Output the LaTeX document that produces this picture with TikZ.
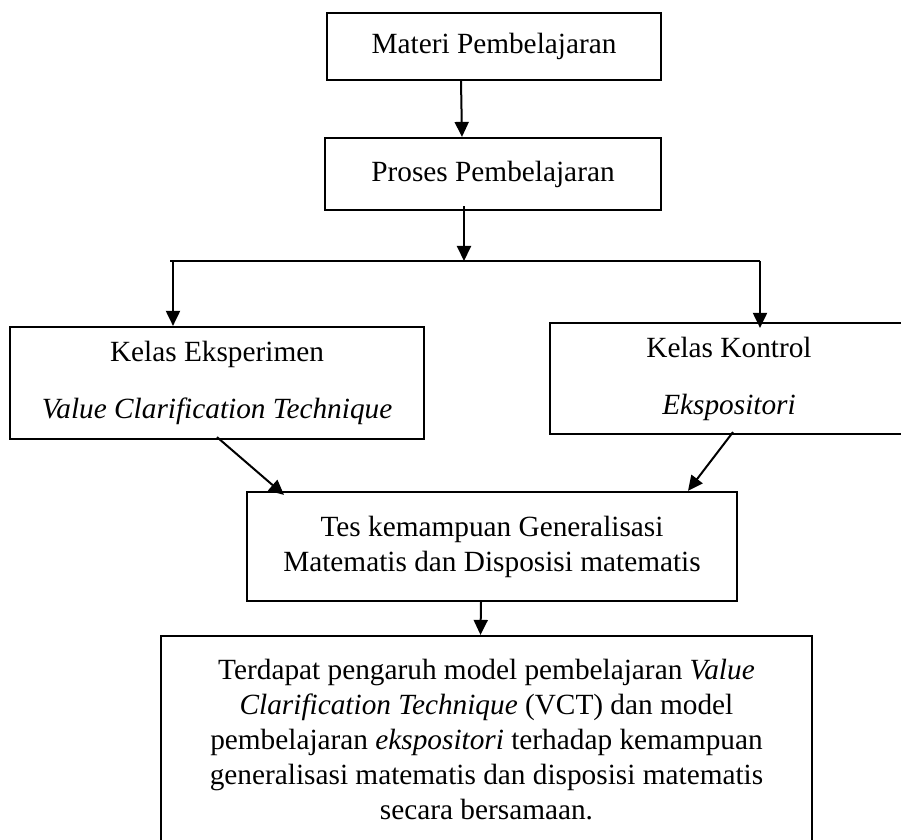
\documentclass[tikz,border=0pt]{standalone}
\usepackage{fontspec}
\setmainfont{Liberation Serif}
\usepackage{tikz}
\usetikzlibrary{shapes,arrows.meta,positioning}

\begin{document}
\begin{tikzpicture}[
    x=0.5pt, y=-0.5pt,
    auto,
    block/.style={rectangle, draw=black, line width=1.1pt, align=center, inner sep=0pt, font=\fontsize{14.65}{17.5}\selectfont},
    arrow/.style={-{Triangle[width=7pt,length=7.5pt]}, draw=black, line width=1pt},
    split/.style={draw=black, line width=0.6pt}
]
\useasboundingbox (0,0) rectangle (901,840);

% Nodes
\node [block, minimum width=167pt, minimum height=33.5pt] (materi) at (494,46.5) {Materi Pembelajaran};
\node [block, minimum width=168pt, minimum height=36pt] (proses) at (493,174) {Proses Pembelajaran};
\node [block, minimum width=207pt, minimum height=56pt] (eksperimen) at (217,383) {Kelas Eksperimen\\[11pt]\textit{Value Clarification Technique}};
\node [block, minimum width=179pt, minimum height=55.5pt] (kontrol) at (729,378.5) {Kelas Kontrol\\[11pt]\textit{Ekspositori}};
\node [block, minimum width=245pt, minimum height=54.5pt] (tes) at (492,546.5) {Tes kemampuan Generalisasi\\Matematis dan Disposisi matematis};
\node [block, minimum width=325.5pt, minimum height=103.5pt] (hasil) at (486.5,739.5) {Terdapat pengaruh model pembelajaran \textit{Value}\\\textit{Clarification Technique} (VCT) dan model\\pembelajaran \textit{ekspositori} terhadap kemampuan\\generalisasi matematis dan disposisi matematis\\secara bersamaan.};

% Branch line
\coordinate (branch) at (464,261);
\coordinate (branchL) at (173,261);
\coordinate (branchR) at (760,261);
\draw [split] (170,261) -- (branchR);

% Arrows
\draw [arrow] ([xshift=-16.5pt]materi.south) -- ([xshift=-15.5pt]proses.north);
\draw [arrow] ([xshift=-14.5pt,yshift=2.5pt]proses.south) -- (branch);
\draw [arrow] (branchL) -- (branchL |- eksperimen.north);
\draw [arrow] (branchR) -- ([yshift=-3pt]branchR |- kontrol.north);
\draw [arrow] ([yshift=1.5pt]eksperimen.south) -- ([xshift=-104pt,yshift=-2pt]tes.north);
\draw [arrow] ([xshift=2pt,yshift=1.5pt]kontrol.south) -- ([xshift=98pt]tes.north);
\draw [arrow] ([xshift=-5.5pt]tes.south) -- ([xshift=-3pt]hasil.north);

\end{tikzpicture}
\end{document}
